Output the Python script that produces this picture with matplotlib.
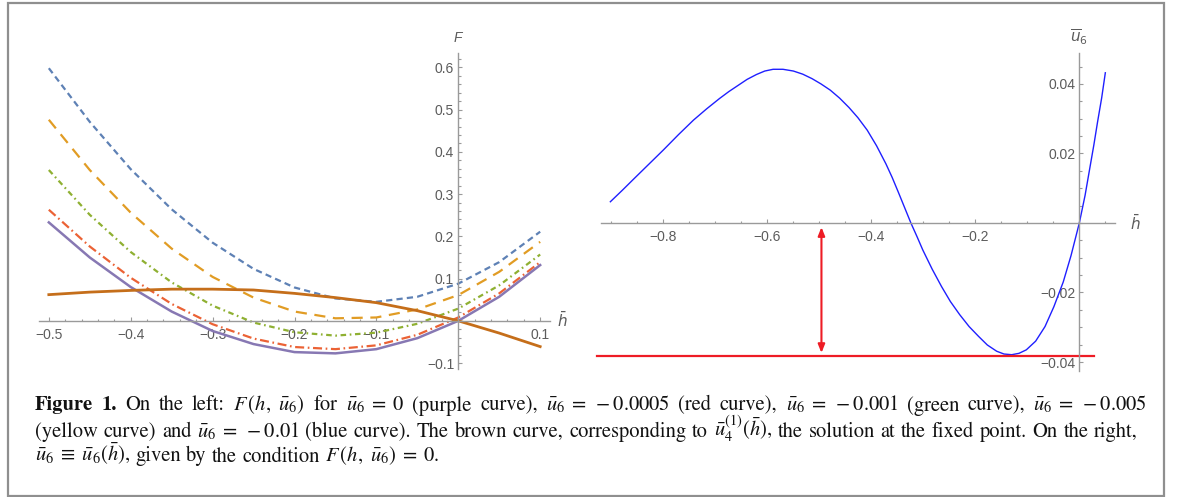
import matplotlib
matplotlib.use("Agg")
import matplotlib.pyplot as plt
from matplotlib.patches import Rectangle
from matplotlib.ticker import MultipleLocator, FixedLocator

# ---------------- data ----------------
h_left = [-0.5, -0.45, -0.4, -0.35, -0.3, -0.25, -0.2, -0.15, -0.1, -0.05, 0.0, 0.05, 0.1]
F_blue = [0.598, 0.471, 0.359, 0.264, 0.185, 0.123, 0.079, 0.053, 0.045, 0.057, 0.088, 0.139, 0.211]
F_yellow = [0.476, 0.357, 0.256, 0.171, 0.104, 0.055, 0.022, 0.006, 0.008, 0.027, 0.061, 0.116, 0.187]
F_green = [0.357, 0.251, 0.163, 0.091, 0.036, -0.004, -0.027, -0.035, -0.028, -0.007, 0.029, 0.084, 0.157]
F_red = [0.263, 0.176, 0.102, 0.040, -0.008, -0.042, -0.062, -0.067, -0.058, -0.033, 0.008, 0.065, 0.139]
F_purple = [0.233, 0.150, 0.080, 0.022, -0.024, -0.055, -0.074, -0.077, -0.067, -0.041, 0.0, 0.057, 0.132]
F_brown = [0.062, 0.068, 0.072, 0.075, 0.075, 0.073, 0.065, 0.055, 0.043, 0.024, 0.0, -0.029, -0.061]

h_right = [-0.902, -0.879, -0.856, -0.828, -0.800, -0.771, -0.742, -0.717, -0.692, -0.674,
           -0.656, -0.639, -0.621, -0.605, -0.589, -0.570, -0.550, -0.532, -0.514, -0.497,
           -0.479, -0.461, -0.443, -0.426, -0.408, -0.390, -0.372, -0.360, -0.348, -0.336,
           -0.324, -0.312, -0.301, -0.283, -0.265, -0.248, -0.230, -0.212, -0.194, -0.177,
           -0.159, -0.145, -0.130, -0.116, -0.102, -0.084, -0.066, -0.049, -0.031, -0.016,
           0.0, 0.011, 0.021, 0.028, 0.035, 0.043, 0.050]
u6_right = [0.0061, 0.0094, 0.0128, 0.0169, 0.0210, 0.0254, 0.0296, 0.0328, 0.0358, 0.0378,
            0.0396, 0.0413, 0.0427, 0.0437, 0.0442, 0.0442, 0.0437, 0.0428, 0.0415, 0.0400,
            0.0382, 0.0359, 0.0332, 0.0303, 0.0267, 0.0222, 0.0170, 0.0131, 0.0088, 0.0044,
            0.0, -0.0040, -0.0078, -0.0133, -0.0183, -0.0226, -0.0264, -0.0298, -0.0326, -0.0351,
            -0.0369, -0.0377, -0.0379, -0.0375, -0.0365, -0.0340, -0.0298, -0.0241, -0.0170, -0.0094,
            0.0, 0.0079, 0.0165, 0.0225, 0.0290, 0.0360, 0.0432]
u6_level = -0.0382
level_h = [-0.927, 0.0277]
arrow_h = -0.496
arrow_u = [-0.0012, -0.0374]

left_xticks = [-0.5, -0.4, -0.3, -0.2, -0.1, 0.1]
left_yticks = [-0.1, 0.1, 0.2, 0.3, 0.4, 0.5, 0.6]
right_xticks = [-0.8, -0.6, -0.4, -0.2]
right_yticks = [-0.04, -0.02, 0.02, 0.04]

# caption, word by word (bold words first on line 1); lines 1-2 are justified
caption_bold = ["Figure", "1."]
caption_line1 = ["On", "the", "left:", r"$F\,(h,\ \bar{u}_6)$", "for", r"$\bar{u}_6\;=\;0$",
                 "(purple", "curve),", r"$\bar{u}_6\;=\;-0.0005$", "(red", "curve),",
                 r"$\bar{u}_6\;=\;-0.001$", "(green", "curve),", r"$\bar{u}_6\;=\;-0.005$"]
caption_line2 = ["(yellow", "curve)", "and", r"$\bar{u}_6\;=\;-0.01$", "(blue", "curve).", "The",
                 "brown", "curve,", "corresponding", "to", r"$\bar{u}_4^{(1)}(\bar{h})$,", "the",
                 "solution", "at", "the", "fixed", "point.", "On", "the", "right,"]
caption_line3 = [r"$\bar{u}_6\;\equiv\;\bar{u}_6(\bar{h})$,", "given", "by", "the", "condition",
                 r"$F\,(h,\ \bar{u}_6)\;=\;0$."]

# ---------------- style ----------------
plt.rcParams['mathtext.fontset'] = 'stix'
plt.rcParams['lines.scale_dashes'] = False
AX_COL = '#9a9a9a'
LAB_COL = '#5c5c5c'
TICK_FONT = 'Liberation Sans'

W, H = 1181, 497
fig = plt.figure(figsize=(W / 100, H / 100), dpi=100)


def px_rect(x0, y0, x1, y1):
    return [x0 / W, 1 - y1 / H, (x1 - x0) / W, (y1 - y0) / H]


def style_axes(ax, xticks, yticks, xminor, yminor, fmt_x, fmt_y):
    for s in ['top', 'right']:
        ax.spines[s].set_visible(False)
    ax.spines['left'].set_position(('data', 0))
    ax.spines['bottom'].set_position(('data', 0))
    for s in ['left', 'bottom']:
        ax.spines[s].set_color(AX_COL)
        ax.spines[s].set_linewidth(1.0)
    ax.xaxis.set_major_locator(FixedLocator(xticks))
    ax.yaxis.set_major_locator(FixedLocator(yticks))
    ax.xaxis.set_minor_locator(MultipleLocator(xminor))
    ax.yaxis.set_minor_locator(MultipleLocator(yminor))
    ax.set_xticklabels([fmt_x(v) for v in xticks])
    ax.set_yticklabels([fmt_y(v) for v in yticks])
    ax.tick_params(which='both', direction='in', color=AX_COL, width=0.8)
    ax.tick_params(which='major', length=3.2)
    ax.tick_params(which='minor', length=1.8)
    ax.tick_params(axis='x', which='major', pad=5, labelsize=10, labelcolor=LAB_COL)
    ax.tick_params(axis='y', which='major', pad=3, labelsize=10, labelcolor=LAB_COL)
    for lab in ax.get_xticklabels() + ax.get_yticklabels():
        lab.set_fontfamily(TICK_FONT)
    ax.patch.set_visible(False)


def fmt1(v):
    return ('%.1f' % v).replace('-', '\u2212')


def fmt2(v):
    return ('%.2f' % v).replace('-', '\u2212')


# ---------------- left panel ----------------
axL = fig.add_axes(px_rect(39, 53, 550, 369))
axL.set_xlim(-0.512, 0.112)
axL.set_ylim(-0.114, 0.634)
style_axes(axL, left_xticks, left_yticks, 0.02, 0.02, fmt1, fmt1)

axL.plot(h_left, F_blue, color='#5E81B5', lw=1.6, ls=(0, (4.5, 3.0)))
axL.plot(h_left, F_yellow, color='#E19C24', lw=1.6, ls=(0, (8.0, 5.5)))
axL.plot(h_left, F_green, color='#8FB032', lw=1.6, ls=(0, (4.0, 2.6, 1.2, 2.6)))
axL.plot(h_left, F_red, color='#EB6235', lw=1.6, ls=(0, (6.5, 2.6, 1.2, 2.6)))
axL.plot(h_left, F_purple, color='#8778B3', lw=1.8)
axL.plot(h_left, F_brown, color='#C56E1A', lw=2.0)

axL.text(0.0, 0.67, 'F', ha='center', va='center', fontsize=10, style='italic',
         color=LAB_COL, family=TICK_FONT)
axL.text(0.121, 0.0, r'$\bar{h}$', ha='left', va='center', fontsize=11,
         color=LAB_COL, math_fontfamily='dejavusans')

# ---------------- right panel ----------------
axR = fig.add_axes(px_rect(601, 53.3, 1115, 370.7))
axR.set_xlim(-0.920, 0.0686)
axR.set_ylim(-0.0425, 0.0488)
style_axes(axR, right_xticks, right_yticks, 0.05, 0.005, fmt1, fmt2)

axR.plot(h_right, u6_right, color='#1f1fff', lw=1.0)
axR.plot(level_h, [u6_level, u6_level], color='#ee1c25', lw=1.6, clip_on=False)
axR.annotate('', xy=(arrow_h, arrow_u[1]), xytext=(arrow_h, arrow_u[0]),
             arrowprops=dict(arrowstyle='<|-|>,head_length=0.5,head_width=0.2',
                             color='#ee1c25', lw=1.5, shrinkA=0, shrinkB=0))

axR.text(0.0, 0.0535, r'$\overline{u}_6$', ha='center', va='center', fontsize=11,
         color=LAB_COL, math_fontfamily='dejavusans')
axR.text(0.098, 0.0, r'$\bar{h}$', ha='left', va='center', fontsize=11,
         color=LAB_COL, math_fontfamily='dejavusans')

# ---------------- frame and caption ----------------
fig.patches.append(Rectangle((8 / W, 1 - 496 / H), (1164 - 8) / W, (496 - 3) / H,
                             transform=fig.transFigure, fill=False,
                             edgecolor='#8f8f8f', lw=1.6))

CAP_FS = 14.8
CAP_X0 = 35
renderer = fig.canvas.get_renderer()


def place_line(words, bold_flags, baseline, right=None):
    texts = []
    for w_, b_ in zip(words, bold_flags):
        t = fig.text(0, 1 - baseline / H, w_, ha='left', va='baseline', fontsize=CAP_FS,
                     family='STIXGeneral', weight='bold' if b_ else 'normal',
                     color='#111111')
        texts.append(t)
    widths = [t.get_window_extent(renderer).width for t in texts]
    space = CAP_FS * 100 / 72 * 0.25
    if right is not None and len(texts) > 1:
        gap = max(space * 0.8, (right - CAP_X0 - sum(widths)) / (len(texts) - 1))
    else:
        gap = space
    x = CAP_X0
    for t, w_ in zip(texts, widths):
        t.set_x(x / W)
        x += w_ + gap


place_line(caption_bold + caption_line1,
           [True] * len(caption_bold) + [False] * len(caption_line1), 410.5, right=1147)
place_line(caption_line2, [False] * len(caption_line2), 437, right=1138)
place_line(caption_line3, [False] * len(caption_line3), 461.5)

fig.savefig('out.png', dpi=100)
